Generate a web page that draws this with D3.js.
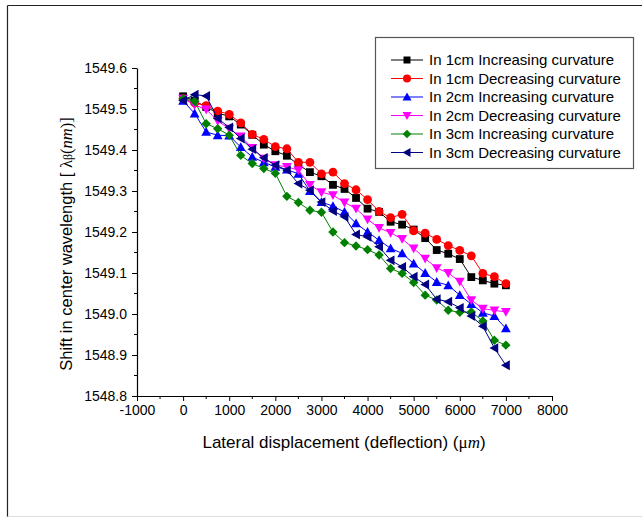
<!DOCTYPE html>
<html><head><meta charset="utf-8">
<script src="https://cdn.jsdelivr.net/npm/d3@7"></script>
<style>body{margin:0;background:#fff}svg{display:block}</style>
</head><body>
<svg id="c" width="642" height="518"></svg>
<script>
const xValues = [0,250,500,750,1000,1250,1500,1750,2000,2250,2500,2750,3000,3250,3500,3750,4000,4250,4500,4750,5000,5250,5500,5750,6000,6250,6500,6750,7000];
const inc1cm = [1549.531,1549.520,1549.505,1549.490,1549.482,1549.462,1549.437,1549.413,1549.397,1549.386,1549.364,1549.346,1549.336,1549.315,1549.305,1549.283,1549.257,1549.249,1549.225,1549.218,1549.206,1549.185,1549.156,1549.147,1549.134,1549.090,1549.082,1549.074,1549.070];
const dec1cm = [1549.525,1549.515,1549.508,1549.495,1549.487,1549.466,1549.438,1549.426,1549.408,1549.403,1549.370,1549.370,1549.342,1549.346,1549.318,1549.303,1549.279,1549.250,1549.235,1549.243,1549.203,1549.197,1549.182,1549.167,1549.155,1549.142,1549.099,1549.091,1549.074];
const inc2cm = [1549.520,1549.489,1549.444,1549.436,1549.435,1549.407,1549.383,1549.370,1549.359,1549.352,1549.342,1549.300,1549.273,1549.263,1549.249,1549.221,1549.200,1549.180,1549.160,1549.148,1549.123,1549.100,1549.078,1549.070,1549.046,1549.024,1549.003,1548.995,1548.965];
const dec2cm = [1549.525,1549.510,1549.499,1549.471,1549.452,1549.433,1549.405,1549.379,1549.363,1549.359,1549.351,1549.315,1549.297,1549.290,1549.272,1549.257,1549.231,1549.210,1549.198,1549.183,1549.160,1549.135,1549.112,1549.100,1549.079,1549.034,1549.013,1549.009,1549.005];
const inc3cm = [1549.525,1549.519,1549.464,1549.452,1549.436,1549.387,1549.367,1549.355,1549.343,1549.287,1549.272,1549.253,1549.248,1549.200,1549.174,1549.166,1549.157,1549.144,1549.111,1549.099,1549.077,1549.046,1549.034,1549.009,1549.004,1549.005,1548.983,1548.936,1548.924];
const dec3cm = [1549.521,1549.535,1549.532,1549.477,1549.455,1549.428,1549.402,1549.381,1549.363,1549.351,1549.318,1549.302,1549.273,1549.251,1549.237,1549.194,1549.188,1549.164,1549.131,1549.115,1549.091,1549.072,1549.036,1549.030,1549.015,1548.995,1548.970,1548.917,1548.875];
const seriesNames = ["In 1cm Increasing curvature","In 1cm Decreasing curvature","In 2cm Increasing curvature","In 2cm Decreasing curvature","In 3cm Increasing curvature","In 3cm Decreasing curvature"];
const xTicks = [-1000,0,1000,2000,3000,4000,5000,6000,7000,8000];
const yTicks = [1548.8,1548.9,1549.0,1549.1,1549.2,1549.3,1549.4,1549.5,1549.6];

const seriesValues = [inc1cm, dec1cm, inc2cm, dec2cm, inc3cm, dec3cm];
const colors = ["#000000","#ff0000","#0000ff","#ff00ff","#008000","#000080"];
const shapes = ["square","circle","up","down","diamond","left"];

const svg = d3.select("#c");
const font = "'Liberation Sans', Arial, sans-serif";
const serif = "'Liberation Serif', 'Times New Roman', serif";

// frame
svg.append("line").attr("x1",7.5).attr("y1",5.5).attr("x2",642).attr("y2",5.5).attr("stroke","#222").attr("stroke-width",1.2);
svg.append("line").attr("x1",7.5).attr("y1",5.5).attr("x2",7.5).attr("y2",517).attr("stroke","#222").attr("stroke-width",1.2);
svg.append("line").attr("x1",7.5).attr("y1",516.5).attr("x2",642).attr("y2",516.5).attr("stroke","#ddd").attr("stroke-width",1);

const x = d3.scaleLinear().domain([-1000,8000]).range([137,552]);
const y = d3.scaleLinear().domain([1548.8,1549.6]).range([396,68]);

// axes
const xAxis = d3.axisBottom(x).tickValues(xTicks).tickFormat(d => String(d)).tickSize(5).tickSizeOuter(0);
const gx = svg.append("g").attr("transform","translate(0,396)").call(xAxis);
gx.selectAll("text").attr("font-family",font).attr("font-size",14).attr("fill","#000").attr("dy","0.71em").attr("y",9);
const xMinor = d3.range(-500,8000,1000);
gx.selectAll(".mn").data(xMinor).enter().append("line").attr("x1",d=>x(d)).attr("x2",d=>x(d)).attr("y1",0).attr("y2",3).attr("stroke","#000");

const yAxis = d3.axisLeft(y).tickValues(yTicks).tickFormat(d3.format(".1f")).tickSize(5).tickSizeOuter(0);
const gy = svg.append("g").attr("transform","translate(137,0)").call(yAxis);
gy.selectAll("text").attr("font-family",font).attr("font-size",14).attr("fill","#000").attr("x",-10);
const yMinor = d3.range(1548.85,1549.6,0.1);
gy.selectAll(".mn").data(yMinor).enter().append("line").attr("x1",0).attr("x2",-3).attr("y1",d=>y(d)).attr("y2",d=>y(d)).attr("stroke","#000");
svg.selectAll(".domain").attr("stroke","#000").attr("stroke-width",1.2);

// symbols
function marker(g, shape, color, s) {
  s = s || 4.4;
  if (shape === "square") g.append("rect").attr("x",-s+0.5).attr("y",-s+0.5).attr("width",2*s-1).attr("height",2*s-1).attr("fill",color);
  else if (shape === "circle") g.append("circle").attr("r",s).attr("fill",color);
  else {
    let pts;
    if (shape === "up") pts = [[0,-s-0.5],[s+0.5,s-0.5],[-s-0.5,s-0.5]];
    else if (shape === "down") pts = [[0,s+0.5],[s+0.5,-s+0.5],[-s-0.5,-s+0.5]];
    else if (shape === "left") pts = [[-s-0.5,0],[s-0.5,-s-0.5],[s-0.5,s+0.5]];
    else pts = [[0,-s-0.3],[s+0.3,0],[0,s+0.3],[-s-0.3,0]];
    g.append("polygon").attr("points",pts.map(p=>p.join(",")).join(" ")).attr("fill",color);
  }
}

const line = d3.line().x(d=>x(d[0])).y(d=>y(d[1]));
seriesValues.forEach((vals,i)=>{
  const data = xValues.map((xv,j)=>[xv, vals[j]]);
  const g = svg.append("g");
  g.append("path").datum(data).attr("d",line).attr("fill","none").attr("stroke",colors[i]).attr("stroke-width",1);
  data.forEach(d=>{
    const m = g.append("g").attr("transform",`translate(${x(d[0])},${y(d[1])})`);
    marker(m, shapes[i], colors[i]);
  });
});

// legend
svg.append("rect").attr("x",375.5).attr("y",37.5).attr("width",258).attr("height",131).attr("fill","#fff").attr("stroke","#555").attr("stroke-width",1.2);
seriesNames.forEach((name,i)=>{
  const cy = 60 + i*18.5;
  svg.append("line").attr("x1",391).attr("x2",423).attr("y1",cy).attr("y2",cy).attr("stroke",colors[i]).attr("stroke-width",1);
  const m = svg.append("g").attr("transform",`translate(407,${cy})`);
  marker(m, shapes[i], colors[i], 4);
  svg.append("text").attr("x",429).attr("y",cy+5).attr("font-family",font).attr("font-size",15).attr("fill","#000").text(name);
});

// axis titles
const xt = svg.append("text").attr("x",344).attr("y",448).attr("text-anchor","middle").attr("font-family",font).attr("font-size",17).attr("fill","#000");
xt.append("tspan").text("Lateral displacement (deflection) (");
xt.append("tspan").attr("font-family",serif).text("\u03bc");
xt.append("tspan").attr("font-family",serif).attr("font-style","italic").text("m");
xt.append("tspan").text(")");

const yt = svg.append("text").attr("transform","translate(72,244) rotate(-90)").attr("text-anchor","middle").attr("font-family",font).attr("font-size",16.5).attr("fill","#000");
yt.append("tspan").text("Shift in center wavelength [ ");
yt.append("tspan").attr("font-family",serif).text("\u03bb");
yt.append("tspan").attr("font-family",serif).attr("font-size",12).text("\u03b2");
yt.append("tspan").attr("font-family",serif).text("(");
yt.append("tspan").attr("font-family",serif).attr("font-style","italic").text("nm");
yt.append("tspan").attr("font-family",serif).text(")]");
</script>
</body></html>
